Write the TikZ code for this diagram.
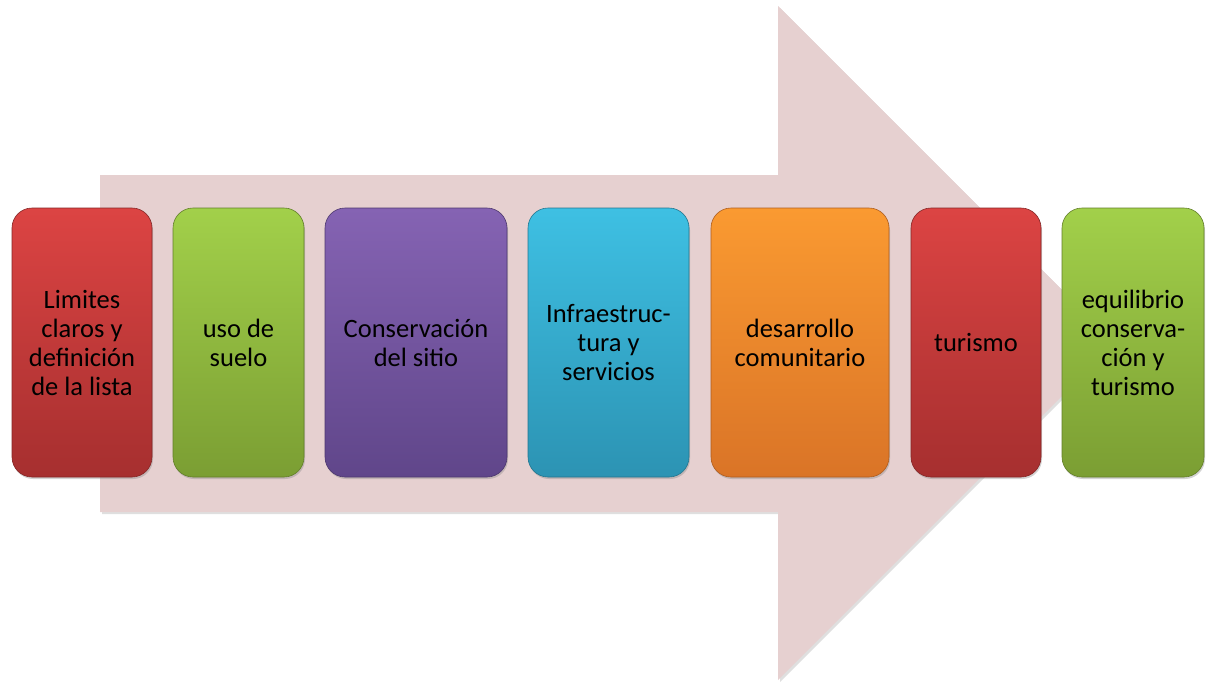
\documentclass[tikz,border=0pt]{standalone}
\usepackage{fontspec}
\setmainfont{Carlito}
\usetikzlibrary{shadows}

\definecolor{flecha}{HTML}{E6D0D0}
\definecolor{rojoA}{HTML}{DC4443}
\definecolor{rojoB}{HTML}{A62F2F}
\definecolor{verdeA}{HTML}{A2D04A}
\definecolor{verdeB}{HTML}{7B9E33}
\definecolor{moradoA}{HTML}{8563B3}
\definecolor{moradoB}{HTML}{60468A}
\definecolor{cianA}{HTML}{3EC0E3}
\definecolor{cianB}{HTML}{2C93B3}
\definecolor{naranjaA}{HTML}{FA9A31}
\definecolor{naranjaB}{HTML}{DA7427}

\begin{document}
\begin{tikzpicture}[x = 1pt, y = -1pt,
  etapa/.style = {rounded corners=20pt, minimum height=269pt, align=center,
    font=\fontsize{26.5}{29}\selectfont, line width=0.6pt,
    drop shadow={opacity=0.35, shadow xshift=1pt, shadow yshift=-2pt}},]

\useasboundingbox (0,0) rectangle (1207,681);

% flecha de fondo
\fill[flecha, drop shadow={opacity=0.25, shadow xshift=2pt, shadow yshift=-2pt}]
  (100,175) -- (778,175) -- (778,6) -- (1115,343) -- (778,680)
  -- (778,512) -- (100,512) -- cycle;

\node[etapa, minimum width=140pt, top color=rojoA, bottom color=rojoB, draw=rojoB!80!black] (L) at (82,342.5) {Limites\\claros y\\definición\\de la lista};
\node[etapa, minimum width=131pt, top color=verdeA, bottom color=verdeB, draw=verdeB!80!black] (U) at (238.5,342.5) {uso de\\suelo};
\node[etapa, minimum width=182pt, top color=moradoA, bottom color=moradoB, draw=moradoB!80!black] (C) at (416,342.5) {Conservación\\del sitio};
\node[etapa, minimum width=161pt, top color=cianA, bottom color=cianB, draw=cianB!80!black] (I) at (608.5,342.5) {Infraestruc-\\tura y\\servicios};
\node[etapa, minimum width=178pt, top color=naranjaA, bottom color=naranjaB, draw=naranjaB!80!black] (D) at (800,342.5) {desarrollo\\comunitario};
\node[etapa, minimum width=130pt, top color=rojoA, bottom color=rojoB, draw=rojoB!80!black] (T) at (976,342.5) {turismo};
\node[etapa, minimum width=142pt, top color=verdeA, bottom color=verdeB, draw=verdeB!80!black] (E) at (1133,342.5) {equilibrio\\conserva-\\ción y\\turismo};

\end{tikzpicture}
\end{document}
